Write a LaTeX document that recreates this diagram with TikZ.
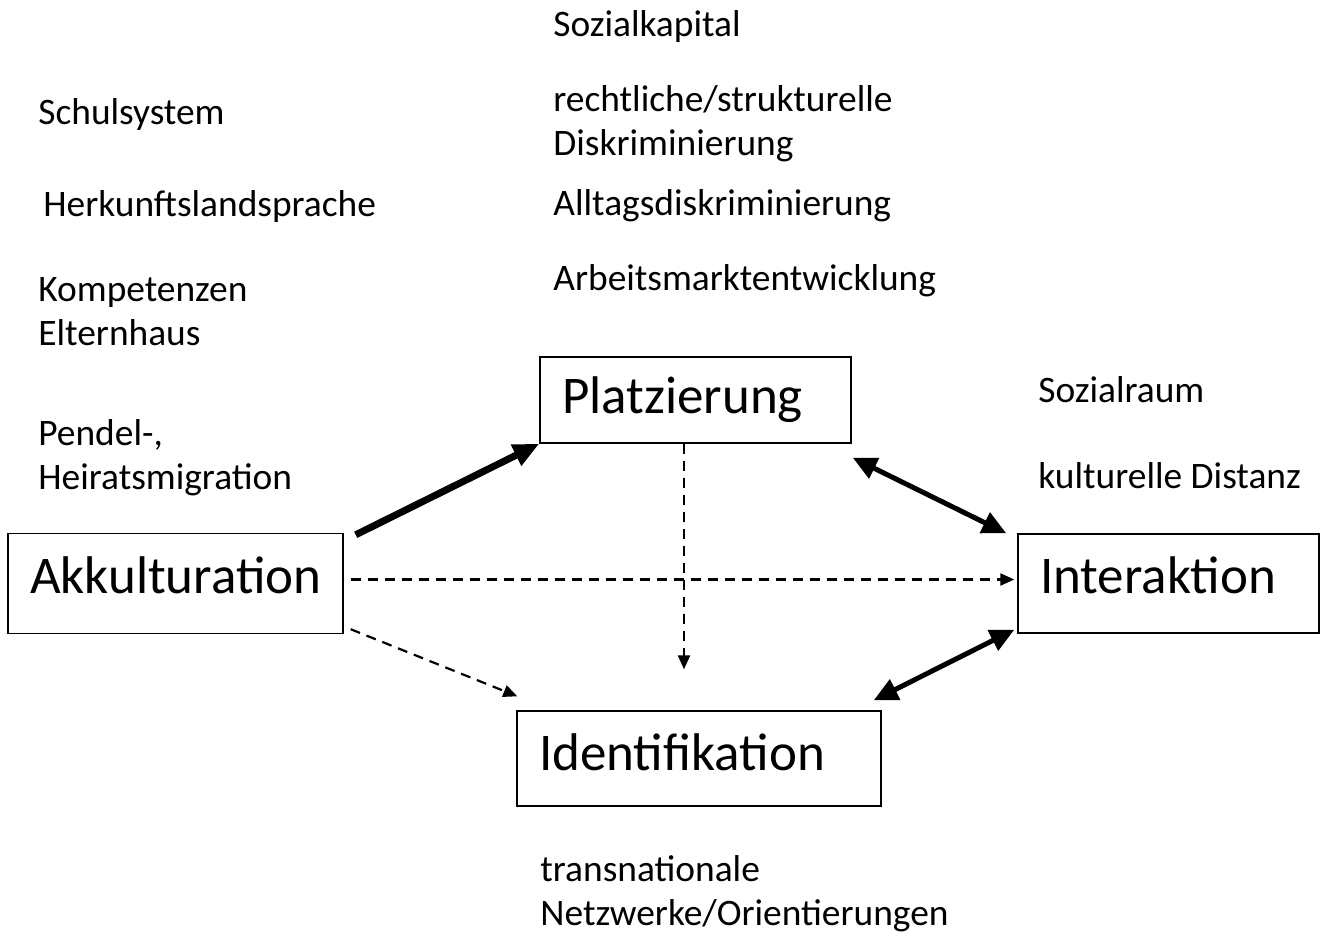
\documentclass[tikz,border=0pt]{standalone}
\usepackage{fontspec}
\setmainfont{Carlito}
\usetikzlibrary{arrows.meta}

\begin{document}
\begin{tikzpicture}[x=0.5pt,y=-0.5pt,
  bloc/.style={draw,line width=0.7pt,align=left,inner xsep=11pt,text height=18pt,text depth=8pt,font=\fontsize{26.5}{32}\selectfont},
  facteur/.style={anchor=base west,inner sep=0pt,align=left,font=\fontsize{18.7}{22}\selectfont},
  fort/.style={line width=3.5pt,-{Triangle[length=13pt,width=11pt]}},
  double/.style={line width=2.5pt,{Triangle[length=12pt,width=11pt]}-{Triangle[length=12pt,width=11pt]}},
  faible/.style={line width=1.1pt,dash pattern=on 5pt off 3.5pt,-{Triangle[length=7pt,width=6pt]}}]
\useasboundingbox (0,0) rectangle (1321,937);

%cadres
\node[bloc,text width=145.5pt,minimum height=50pt] (akk) at (175.5,583.5) {Akkulturation};
\node[bloc,text width=133.5pt,minimum height=43pt,text depth=5pt] (platz) at (695.5,400) {Platzierung};
\node[bloc,text width=128.5pt,minimum height=49.5pt] (inter) at (1168.5,583.5) {Interaktion};
\node[bloc,text width=160pt,minimum height=47.5pt,text depth=6.5pt] (ident) at (699,758.5) {Identifikation};
%fin

%facteurs (base = derniere ligne)
\node[facteur] (sozkap) at (553,36) {Sozialkapital};
\node[facteur] (recht) at (553,155) {rechtliche/strukturelle\\Diskriminierung};
\node[facteur] (alltag) at (553,215) {Alltagsdiskriminierung};
\node[facteur] (arbeit) at (553,290) {Arbeitsmarktentwicklung};
\node[facteur] (schule) at (38,124) {Schulsystem};
\node[facteur] (sprache) at (43,216) {Herkunftslandsprache};
\node[facteur] (eltern) at (38,345) {Kompetenzen\\Elternhaus};
\node[facteur] (pendel) at (38,489) {Pendel-,\\Heiratsmigration};
\node[facteur] (raum) at (1038,402) {Sozialraum};
\node[facteur] (distanz) at (1038,488) {kulturelle Distanz};
\node[facteur] (trans) at (540,925) {transnationale\\Netzwerke/Orientierungen};
%fin

%fleches
\draw[fort] ([xshift=6pt,yshift=-1pt]akk.north east) -- (platz.south west);
\draw[double] ([xshift=0.5pt,yshift=-7pt]platz.south east) -- ([xshift=-5.5pt]inter.north west);
\draw[double] ([xshift=-1.5pt,yshift=2pt]inter.south west) -- ([xshift=-4pt,yshift=5pt]ident.north east);
\draw[faible] ([xshift=3.5pt,yshift=2pt]akk.east) -- ([xshift=-1.5pt,yshift=2pt]inter.west);
\draw[faible] ([xshift=-5.75pt]platz.south) -- ([xshift=-7.5pt,yshift=20.5pt]ident.north);
\draw[faible] ([xshift=3.5pt,yshift=2.5pt]akk.south east) -- ([xshift=0.5pt,yshift=7pt]ident.north west);
%fin
\end{tikzpicture}
\end{document}
